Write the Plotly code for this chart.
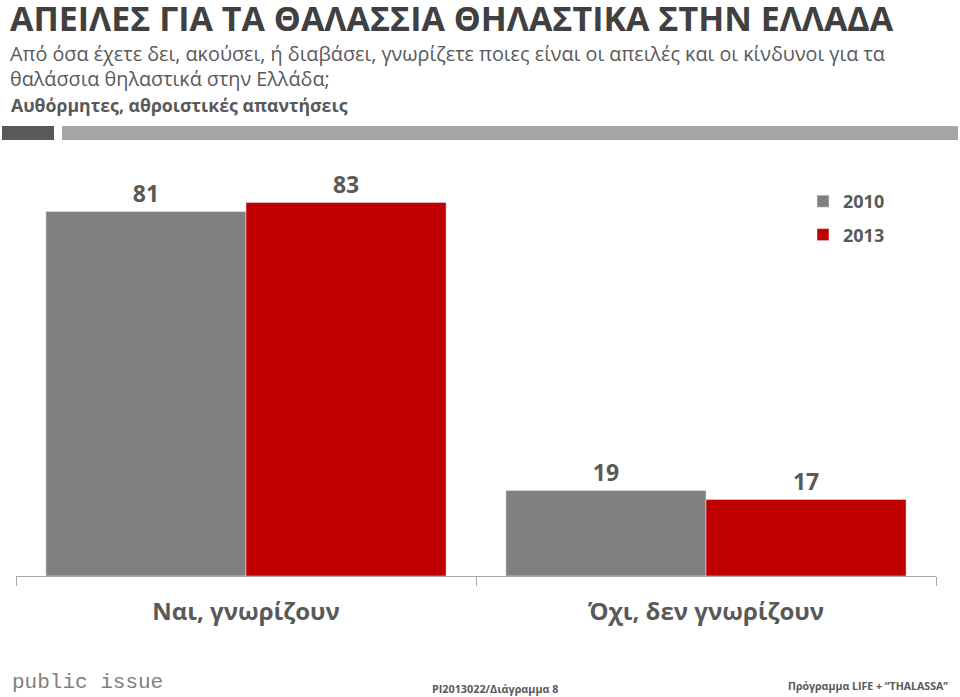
import plotly.graph_objects as go

# data
categories = ["Ναι, γνωρίζουν", "Όχι, δεν γνωρίζουν"]
values_2010 = [81, 19]
values_2013 = [83, 17]
series_names = ["2010", "2013"]

title = "ΑΠΕΙΛΕΣ ΓΙΑ ΤΑ ΘΑΛΑΣΣΙΑ ΘΗΛΑΣΤΙΚΑ ΣΤΗΝ ΕΛΛΑΔΑ"
question_1 = "Από όσα έχετε δει, ακούσει, ή διαβάσει, γνωρίζετε ποιες είναι οι απειλές και οι κίνδυνοι για τα"
question_2 = "θαλάσσια θηλαστικά στην Ελλάδα;"
note = "Αυθόρμητες, αθροιστικές απαντήσεις"
footer_mid = "PI2013022/Διάγραμμα 8"
footer_right = "Πρόγραμμα LIFE + “THALASSA”"

W, H = 960, 697
L, R, T, B = 16, 24, 171, 121
FONT = "Open Sans"
DARK = "#404040"
TXT = "#595959"


def px(x):
    return (x - L) / (W - L - R)


def py(y):
    return (H - B - y) / (H - T - B)


fig = go.Figure()
fig.add_trace(go.Bar(name=series_names[0], x=categories, y=values_2010,
                     marker_color="#808080", legendgroup="a",
                     texttemplate="%{y}", textposition="outside",
                     cliponaxis=False))
fig.add_trace(go.Bar(name=series_names[1], x=categories, y=values_2013,
                     marker_color="#c00000", legendgroup="b",
                     texttemplate="%{y}", textposition="outside",
                     cliponaxis=False))
fig.update_traces(textfont=dict(family=FONT, size=23, color=TXT, weight="bold"))

fig.update_layout(
    width=W, height=H,
    margin=dict(l=L, r=R, t=T, b=B),
    paper_bgcolor="white", plot_bgcolor="white",
    barmode="group", bargap=0.13, bargroupgap=0,
    font=dict(family=FONT, color=TXT),
    legend=dict(x=px(803), y=py(183), xanchor="left", yanchor="top",
                font=dict(size=18, color=TXT, weight="bold"),
                tracegroupgap=7, bgcolor="rgba(0,0,0,0)"),
)
fig.update_xaxes(showline=True, linecolor="#a6a6a6", linewidth=1,
                 ticks="outside", ticklen=9, tickcolor="#a6a6a6",
                 tickson="boundaries", ticklabelstandoff=14,
                 tickfont=dict(family=FONT, size=24, color=TXT, weight="bold"))
fig.update_yaxes(visible=False, range=[0, 90])

# header texts
fig.add_annotation(text=title, x=px(8), y=py(18), xanchor="left", yanchor="middle",
                   font=dict(family=FONT, size=34, color=DARK, weight="bold"))
fig.add_annotation(text=question_1, x=px(8), y=py(54), xanchor="left", yanchor="middle",
                   font=dict(family=FONT, size=19.8, color=TXT))
fig.add_annotation(text=question_2, x=px(8), y=py(79), xanchor="left", yanchor="middle",
                   font=dict(family=FONT, size=19.8, color=TXT))
fig.add_annotation(text=note, x=px(9), y=py(105), xanchor="left", yanchor="middle",
                   font=dict(family=FONT, size=17.7, color=TXT, weight="bold"))

# header bars
fig.add_shape(type="rect", xref="paper", yref="paper", x0=px(2), x1=px(54),
              y0=py(126), y1=py(140), fillcolor="#595959", line_width=0)
fig.add_shape(type="rect", xref="paper", yref="paper", x0=px(62), x1=px(958),
              y0=py(126), y1=py(140), fillcolor="#a6a6a6", line_width=0)

# footer
fig.add_annotation(text="public issue", x=px(10), y=py(682), xanchor="left", yanchor="middle",
                   font=dict(family="Liberation Mono", size=21, color="#808080"))
fig.add_annotation(text=footer_mid, x=px(430), y=py(688), xanchor="left", yanchor="middle",
                   font=dict(family=FONT, size=10.8, color=TXT, weight="bold"))
fig.add_annotation(text=footer_right, x=px(950), y=py(686), xanchor="right", yanchor="middle",
                   font=dict(family=FONT, size=10.6, color=TXT, weight="bold"))

fig.update_annotations(xref="paper", yref="paper", showarrow=False)

# the page's default body margin would shift the figure by 8px
fig.write_html("out.html", config={"displayModeBar": False},
               post_script="document.body.style.margin='0';")
